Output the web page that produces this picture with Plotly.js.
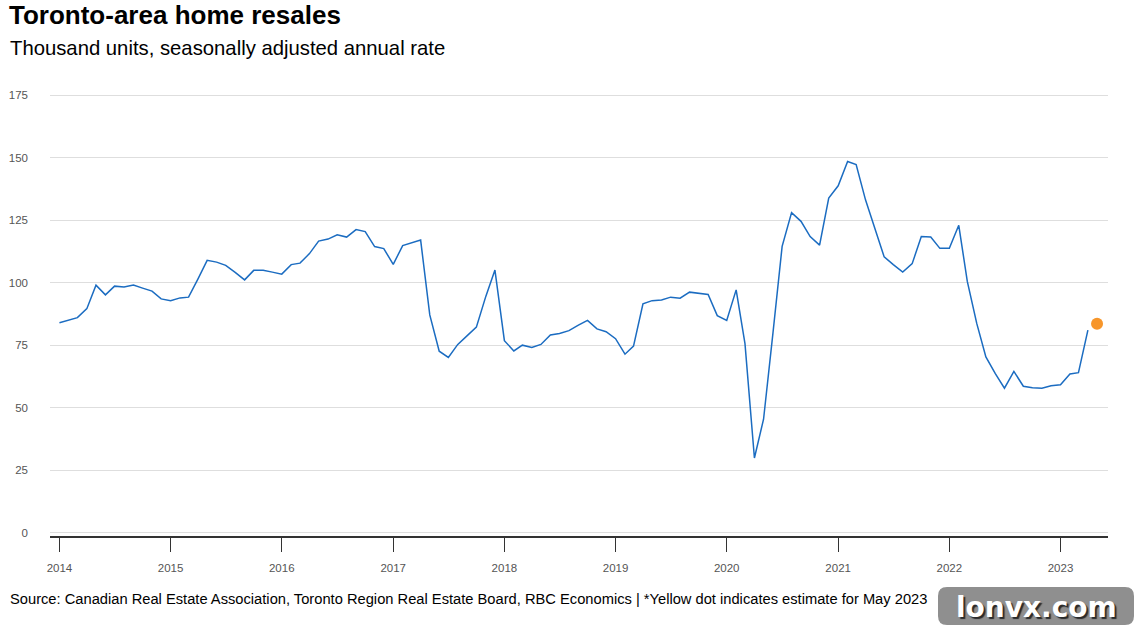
<!DOCTYPE html>
<html>
<head>
<meta charset="utf-8">
<script src="https://cdn.plot.ly/plotly-3.0.1.min.js"></script>
<style>
  html, body { margin: 0; padding: 0; background: #ffffff; }
  #chart { width: 1136px; height: 634px; }
</style>
</head>
<body>
<div id="chart"></div>
<script>
// Monthly Toronto-area resales, thousand units SAAR, starting January 2014
const firstYear = 2014;
const resales = [
  // 2014
  84.0, 85.0, 86.0, 89.6, 99.0, 95.1, 98.6, 98.3, 99.0, 97.8, 96.6, 93.5,
  // 2015
  92.8, 93.9, 94.2, 101.5, 108.9, 108.2, 106.9, 104.1, 101.1, 104.9, 104.9, 104.2,
  // 2016
  103.4, 107.2, 107.8, 111.6, 116.6, 117.4, 119.1, 118.2, 121.2, 120.4, 114.4, 113.6,
  // 2017
  107.3, 114.8, 115.9, 117.0, 87.1, 72.6, 70.1, 75.3, 78.8, 82.2, 94.5, 105.0,
  // 2018
  76.8, 72.7, 75.0, 74.1, 75.3, 79.1, 79.7, 80.8, 83.0, 84.9, 81.5, 80.4,
  // 2019
  77.6, 71.4, 74.6, 91.5, 92.8, 93.1, 94.2, 93.8, 96.2, 95.7, 95.3, 86.8,
  // 2020
  84.9, 97.1, 75.6, 29.9, 45.4, 80.0, 114.5, 128.0, 124.5, 118.4, 115.0, 133.8,
  // 2021
  138.7, 148.4, 147.2, 133.0, 121.4, 110.3, 107.2, 104.2, 107.6, 118.4, 118.2, 113.7,
  // 2022
  113.7, 122.9, 100.5, 83.7, 70.3, 63.6, 57.8, 64.5, 58.6, 58.0, 57.8, 58.8,
  // 2023
  59.2, 63.5, 64.0, 81.0
];

// May 2023 estimate
const estimateMonth = '2023-05-01';
const estimateValue = 83.6;

const tickYears = ['2014', '2015', '2016', '2017', '2018', '2019', '2020', '2021', '2022', '2023'];
const yTickValues = [0, 25, 50, 75, 100, 125, 150, 175];

const titleText = 'Toronto-area home resales';
const subtitleText = 'Thousand units, seasonally adjusted annual rate';
const sourceText = 'Source: Canadian Real Estate Association, Toronto Region Real Estate Board, RBC Economics | *Yellow dot indicates estimate for May 2023';
const badgeText = 'lonvx.com';

// Build the month dates for the series
const months = resales.map((_, i) => {
  const y = firstYear + Math.floor(i / 12);
  const m = (i % 12) + 1;
  return y + '-' + String(m).padStart(2, '0') + '-01';
});

const FONT = 'Liberation Sans, Arial, Helvetica, sans-serif';

const traces = [
  {
    type: 'scatter',
    mode: 'lines',
    x: months,
    y: resales,
    line: { color: '#1b6cc1', width: 1.5 },
    hoverinfo: 'skip'
  },
  {
    type: 'scatter',
    mode: 'markers',
    x: [estimateMonth],
    y: [estimateValue],
    marker: { color: '#f7962b', size: 12 },
    hoverinfo: 'skip'
  }
];

// Plot area: 50..1108 px horizontally, 92..536 px vertically
const W = 1136, H = 634;
const mL = 50, mR = 28, mT = 92, mB = 98;
const plotW = W - mL - mR, plotH = H - mT - mB;
const px = (x) => (x - mL) / plotW;
const py = (y) => (H - mB - y) / plotH;

// Rounded badge in the bottom-right corner
const bx0 = 938, bx1 = 1134, by0 = 587, by1 = 625, r = 9;
const badgePath = [
  'M', px(bx0 + r), py(by0),
  'L', px(bx1 - r), py(by0),
  'Q', px(bx1), py(by0), px(bx1), py(by0 + r),
  'L', px(bx1), py(by1 - r),
  'Q', px(bx1), py(by1), px(bx1 - r), py(by1),
  'L', px(bx0 + r), py(by1),
  'Q', px(bx0), py(by1), px(bx0), py(by1 - r),
  'L', px(bx0), py(by0 + r),
  'Q', px(bx0), py(by0), px(bx0 + r), py(by0),
  'Z'
].map((v) => (typeof v === 'number' ? v.toFixed(5) : v)).join(' ');

const layout = {
  width: W,
  height: H,
  margin: { l: mL, r: mR, t: mT, b: mB, pad: 0 },
  paper_bgcolor: '#ffffff',
  plot_bgcolor: '#ffffff',
  showlegend: false,
  hovermode: false,
  font: { family: FONT, color: '#000000' },
  title: {
    text: '<b>' + titleText + '</b>',
    font: { family: FONT, size: 26, color: '#000000' },
    xref: 'container', yref: 'container',
    x: 9 / W, xanchor: 'left',
    y: 1 - 15 / H, yanchor: 'middle'
  },
  xaxis: {
    type: 'date',
    range: ['2013-12-01', '2023-06-06'],
    tickvals: tickYears.map((y) => y + '-01-01'),
    ticktext: tickYears,
    ticks: 'outside',
    ticklen: 14,
    tickwidth: 1,
    tickcolor: '#333333',
    ticklabelstandoff: 7,
    showline: true,
    linecolor: '#333333',
    linewidth: 1.5,
    showgrid: false,
    zeroline: false,
    tickfont: { family: FONT, size: 11.5, color: '#555555' },
    fixedrange: true
  },
  yaxis: {
    range: [-1.28, 176.2],
    tickvals: yTickValues,
    ticktext: yTickValues.map(String),
    ticks: '',
    ticklabelstandoff: 21,
    showline: false,
    showgrid: true,
    gridcolor: '#dedede',
    gridwidth: 1,
    zeroline: false,
    tickfont: { family: FONT, size: 11.5, color: '#555555' },
    fixedrange: true
  },
  shapes: [
    {
      type: 'path',
      xref: 'paper', yref: 'paper',
      path: badgePath,
      fillcolor: '#8f8f8f',
      line: { width: 0 },
      layer: 'above'
    }
  ],
  annotations: [
    {
      text: subtitleText,
      xref: 'paper', yref: 'paper',
      x: px(8), y: py(48),
      xanchor: 'left', yanchor: 'middle',
      showarrow: false,
      font: { family: FONT, size: 20.3, color: '#000000' }
    },
    {
      text: sourceText,
      xref: 'paper', yref: 'paper',
      x: px(8), y: py(599),
      xanchor: 'left', yanchor: 'middle',
      showarrow: false,
      font: { family: FONT, size: 14.7, color: '#000000' }
    },
    {
      text: '<b>' + badgeText + '</b>',
      xref: 'paper', yref: 'paper',
      x: px((bx0 + bx1) / 2), y: py(607),
      xanchor: 'center', yanchor: 'middle',
      showarrow: false,
      font: {
        family: 'DejaVu Sans, Verdana, sans-serif',
        size: 28,
        color: '#ffffff',
        shadow: '2px 2px 1px #2a2a2a'
      }
    }
  ]
};

Plotly.newPlot('chart', traces, layout, { displayModeBar: false, staticPlot: true });
</script>
</body>
</html>
